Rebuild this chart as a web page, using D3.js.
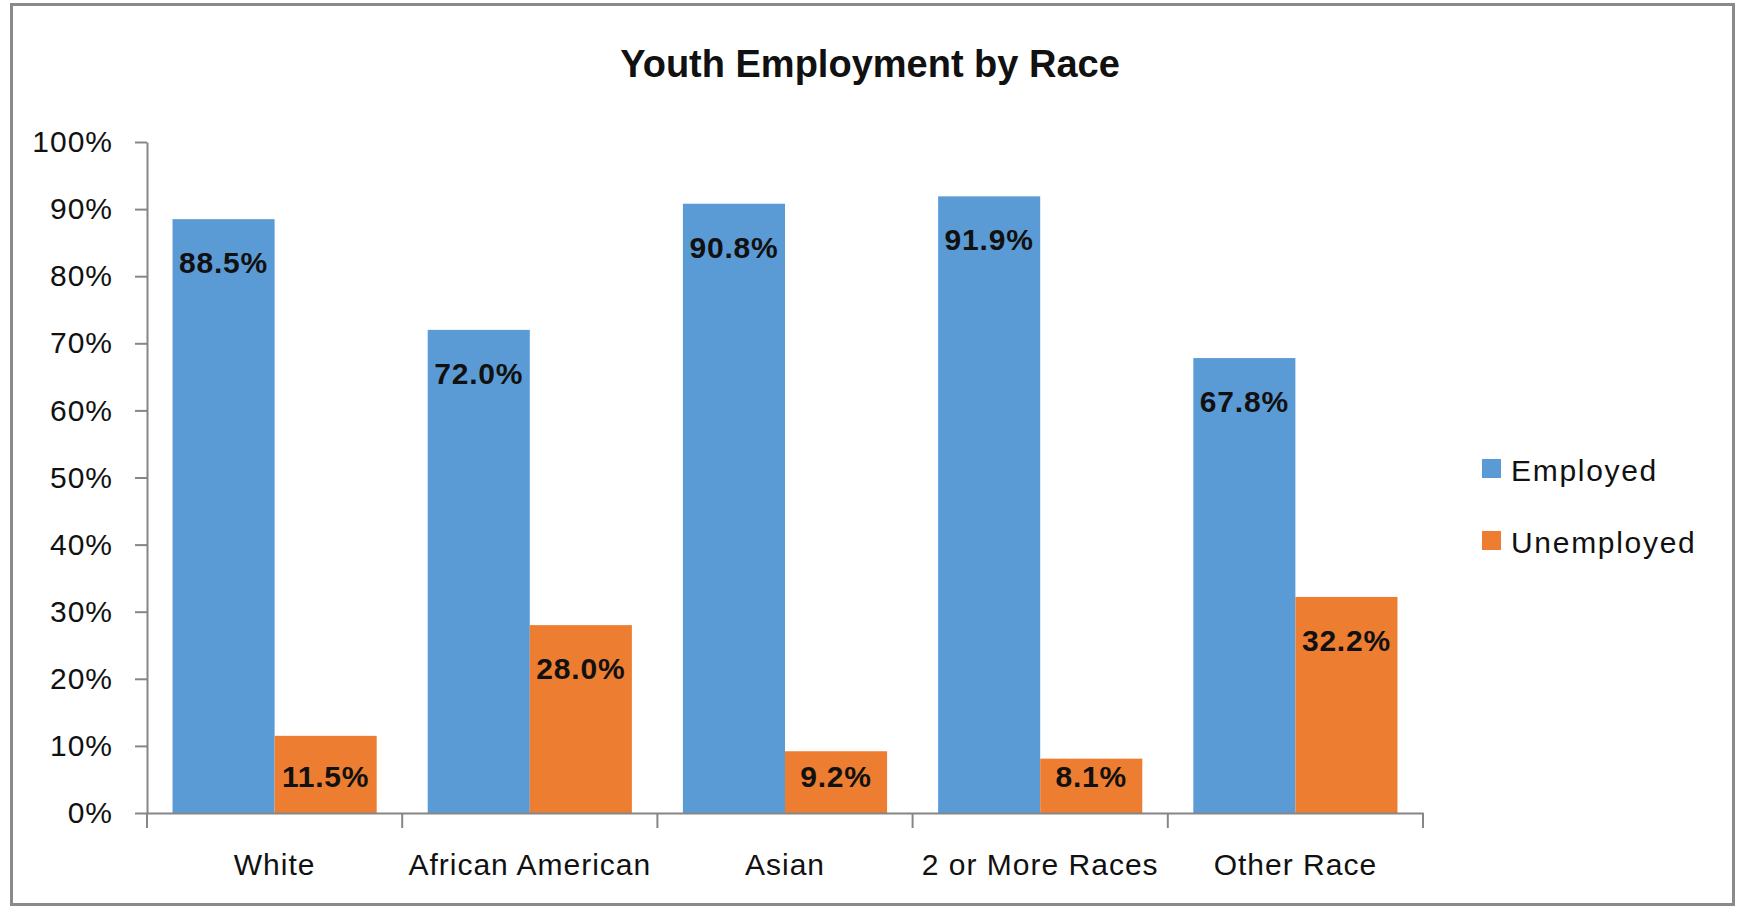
<!DOCTYPE html>
<html lang="en">
<head>
  <meta charset="UTF-8">
  <title>Youth Employment by Race</title>
  <script src="https://d3js.org/d3.v7.min.js"></script>
</head>
<style>
  body{
    margin:0;
    background:white;
    font-family: "Liberation Sans", Arial, Helvetica, sans-serif;
  }
  .axis text{
    font-size:30px;
    letter-spacing:1px;
    fill:#111;
  }
  .axis path, .axis line{
    stroke:#868686;
    stroke-width:2px;
  }
</style>
<body>
  <div id="svg_area"></div>
</body>
<script>
// chart data
var categories = ["White", "African American", "Asian", "2 or More Races", "Other Race"];
var seriesNames = ["Employed", "Unemployed"];
var employed = [0.885, 0.720, 0.908, 0.919, 0.678];
var unemployed = [0.115, 0.280, 0.092, 0.081, 0.322];
var yTicks = [0, 0.1, 0.2, 0.3, 0.4, 0.5, 0.6, 0.7, 0.8, 0.9, 1.0];
var colours = ["#5B9BD5", "#ED7D31"];

var width = 1738;
var height = 908;
// plot area edges (note: "top" is reserved on window, so use other names)
var plotLeft = 147, plotRight = 1423, plotTop = 142, plotBottom = 813;

// build rows from the arrays
var rows = categories.map(function(c, i){
  return {cat: c, values: [employed[i], unemployed[i]]};
});

var svg = d3.select("#svg_area").append("svg")
  .attr("width", width)
  .attr("height", height);

// outer border of the chart area
svg.append("rect")
  .attr("x", 11.5).attr("y", 4.5)
  .attr("width", 1722).attr("height", 900)
  .attr("fill", "white")
  .attr("stroke", "#8a8a8a")
  .attr("stroke-width", 3);

// title
svg.append("text")
  .attr("x", 870).attr("y", 77)
  .attr("text-anchor", "middle")
  .attr("font-size", "38px")
  .attr("font-weight", "bold")
  .attr("fill", "#111")
  .text("Youth Employment by Race");

// scales
var x0 = d3.scaleBand().domain(categories).range([plotLeft, plotRight]).padding(0);
var x1 = d3.scaleBand().domain(seriesNames).range([0, x0.bandwidth()])
  .paddingInner(0).paddingOuter(0.25);
var yScale = d3.scaleLinear().domain([0, 1]).range([plotBottom, plotTop]);
var colour = d3.scaleOrdinal().domain(seriesNames).range(colours);

// bars
var groups = svg.selectAll("g.cat")
  .data(rows)
  .enter().append("g")
  .attr("class", "cat")
  .attr("transform", function(d){ return "translate(" + x0(d.cat) + ",0)"; });

groups.selectAll("rect")
  .data(function(d){ return d.values.map(function(v, j){ return {s: seriesNames[j], v: v}; }); })
  .enter().append("rect")
  .attr("x", function(d){ return x1(d.s); })
  .attr("y", function(d){ return yScale(d.v); })
  .attr("width", x1.bandwidth())
  .attr("height", function(d){ return plotBottom - yScale(d.v); })
  .attr("fill", function(d){ return colour(d.s); });

// data labels, inside end of each bar (kept inside short bars)
groups.selectAll("text")
  .data(function(d){ return d.values.map(function(v, j){ return {s: seriesNames[j], v: v}; }); })
  .enter().append("text")
  .attr("x", function(d){ return x1(d.s) + x1.bandwidth() / 2; })
  .attr("y", function(d){ return Math.min(yScale(d.v) + 54, plotBottom - 26); })
  .attr("text-anchor", "middle")
  .attr("font-size", "30px")
  .attr("font-weight", "bold")
  .attr("letter-spacing", "0.8px")
  .attr("fill", "#111")
  .text(function(d){ return d3.format(".1%")(d.v); });

// y axis
var yAxis = d3.axisLeft(yScale)
  .tickValues(yTicks)
  .tickFormat(d3.format(".0%"))
  .tickSize(12)
  .tickSizeOuter(0)
  .tickPadding(22);

svg.append("g")
  .attr("class", "axis")
  .attr("transform", "translate(" + plotLeft + ",0)")
  .call(yAxis);

// x axis, labels centred in each band
var xAxis = d3.axisBottom(x0).tickSize(0).tickSizeOuter(0);
var gx = svg.append("g")
  .attr("class", "axis")
  .attr("transform", "translate(0," + plotBottom + ")")
  .call(xAxis);
gx.selectAll("text").attr("y", 62).attr("dy", 0);

// tick marks on the category boundaries
var bounds = categories.map(function(c){ return x0(c); }).concat([plotRight]);
gx.selectAll("line.bound")
  .data(bounds)
  .enter().append("line")
  .attr("class", "bound")
  .attr("x1", function(d){ return d; })
  .attr("x2", function(d){ return d; })
  .attr("y1", 0)
  .attr("y2", 15);

// legend
var legend = svg.selectAll("g.legend")
  .data(seriesNames)
  .enter().append("g")
  .attr("class", "legend")
  .attr("transform", function(d, i){ return "translate(1482," + (459 + i * 72) + ")"; });

legend.append("rect")
  .attr("width", 19).attr("height", 19)
  .attr("fill", function(d){ return colour(d); });

legend.append("text")
  .attr("x", 29).attr("y", 22)
  .attr("font-size", "30px")
  .attr("letter-spacing", "1.7px")
  .attr("fill", "#111")
  .text(function(d){ return d; });
</script>
</html>
